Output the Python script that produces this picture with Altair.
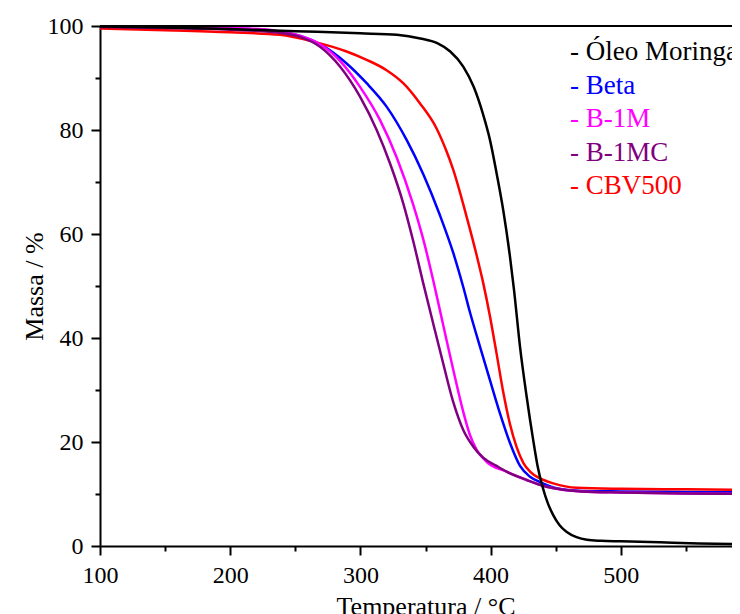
import altair as alt
import pandas as pd

# ---- data ----
series_names = ["Óleo Moringa", "Beta", "B-1M", "B-1MC", "CBV500"]
series_colors = ["#000000", "#0000ff", "#ff00ff", "#800080", "#ff0000"]
legend_labels = ["- Óleo Moringa", "- Beta", "- B-1M", "- B-1MC", "- CBV500"]

oleo_T = [100, 150, 200, 250, 300, 328, 346, 359, 369, 379, 387, 394, 399.5, 404.6,
          409.7, 414.9, 418, 422.6, 427.7, 432.7, 436, 440, 444, 448, 453, 458.5, 466,
          474, 485, 500, 530, 560, 600]
oleo_M = [99.9, 99.7, 99.4, 99.0, 98.6, 98.3, 97.6, 96.7, 95.1, 92.2, 88.3, 83.2, 78.1, 71.7,
          64.6, 55.6, 49.2, 38.3, 28.7, 20.4, 15.5, 11.3, 8.2, 6.0, 4.0, 2.7, 1.7,
          1.2, 1.0, 0.9, 0.7, 0.5, 0.35]

beta_T = [100, 150, 200, 230, 238, 254, 269, 289.4, 304.8, 320.1, 335.5, 348.3, 361.1,
          371.4, 379, 384.2, 391.9, 399.5, 407.2, 414.9, 422.6, 430.3, 438, 450.7, 470,
          500, 550, 600]
beta_M = [99.8, 99.7, 99.5, 99.2, 98.9, 98.1, 96.5, 92.8, 89.0, 84.5, 78.1, 71.5, 63.6,
          56.3, 49.8, 44.9, 38.3, 31.9, 25.5, 19.8, 15.4, 13.3, 12.3, 11.1, 10.6,
          10.5, 10.4, 10.3]

b1m_T = [100, 150, 200, 230, 238.2, 253.6, 269, 284.3, 299.7, 315.1, 327.9, 340.6, 349,
         356, 363.6, 371.4, 379, 384.2, 389.3, 396.9, 412.3, 427.7, 443, 453.3,
         470, 500, 550, 600]
b1m_M = [99.9, 99.8, 99.6, 99.3, 98.9, 98.1, 96.5, 93.3, 88.3, 81.9, 74.7, 65.6, 58.3,
         51.0, 42.5, 33.8, 25.8, 21.3, 18.5, 16.2, 14.3, 12.7, 11.4, 10.9,
         10.5, 10.3, 10.1, 10.0]

b1mc_T = [100, 150, 200, 230, 238.2, 253.6, 269, 284.3, 299.7, 312.5, 322.7, 332.9, 340.6,
          348.2, 355.9, 363.6, 371.4, 379, 386.7, 394.3, 404.6, 412.3, 427.7, 443, 453.3,
          470, 500, 550, 600]
b1mc_M = [99.8, 99.6, 99.3, 98.9, 98.7, 97.9, 96.0, 92.2, 86.4, 80.0, 73.6, 65.9, 58.6,
          50.6, 42.8, 35.1, 27.6, 22.3, 19.1, 17.0, 15.4, 14.3, 12.7, 11.4, 10.9,
          10.5, 10.3, 10.1, 10.0]

cbv_T = [100, 150, 200, 238.2, 263.8, 289.4, 304.8, 320.1, 332.9, 345.8, 358.5, 366,
         371.4, 381.6, 389.3, 394.3, 399.5, 404.6, 409.7, 414.9, 420, 425.1, 430.3, 438,
         448.1, 466, 500, 550, 600]
cbv_M = [99.5, 99.2, 98.8, 98.3, 97.0, 95.1, 93.5, 91.5, 89.0, 85.1, 80.3, 76.0,
         72.3, 63.3, 55.9, 50.6, 44.2, 37.0, 29.6, 23.4, 19.0, 16.0, 14.3, 13.0,
         12.05, 11.2, 11.0, 10.9, 10.8]

x_ticks = list(range(100, 601, 50))
y_ticks = list(range(0, 101, 10))

# draw order (last on top)
series_data = [
    ("Beta", beta_T, beta_M),
    ("CBV500", cbv_T, cbv_M),
    ("B-1M", b1m_T, b1m_M),
    ("B-1MC", b1mc_T, b1mc_M),
    ("Óleo Moringa", oleo_T, oleo_M),
]

rows = []
for k, (name, T, M) in enumerate(series_data):
    for i, (t, m) in enumerate(zip(T, M)):
        rows.append({"serie": name, "T": t, "M": m, "k": k, "i": i})
df = pd.DataFrame(rows)

FONT = "Liberation Serif"
PLOT_W = 632      # visible width of the plot area inside the page
RANGE_W = 651     # pixel extent of 100..600 (the frame continues past the picture)
PLOT_H = 520

x_axis = alt.Axis(
    values=x_ticks,
    title="Temperatura / °C",
    labelExpr="datum.value % 100 == 0 ? datum.label : ''",
    tickSize={"condition": {"test": "datum.value % 100 != 0", "value": 5}, "value": 9},
    labelFlush=False,
    labelOverlap=False,
    labelPadding=8,
    titlePadding=6,
)
y_axis = alt.Axis(
    values=y_ticks,
    title="Massa / %",
    labelExpr="datum.value % 20 == 0 ? datum.label : ''",
    tickSize={"condition": {"test": "datum.value % 20 != 0", "value": 5}, "value": 9},
    labelFlush=False,
    labelOverlap=False,
    labelPadding=8,
    titlePadding=0,
)

lines = alt.Chart(df).mark_line(strokeWidth=2.5, clip=True, interpolate="monotone").encode(
    x=alt.X("T:Q", scale=alt.Scale(domain=[100, 600], range=[0, RANGE_W], nice=False, zero=False), axis=x_axis),
    y=alt.Y("M:Q", scale=alt.Scale(domain=[0, 100], nice=False), axis=y_axis),
    color=alt.Color("serie:N", scale=alt.Scale(domain=series_names, range=series_colors), legend=None),
    detail="k:N",
    order="i:Q",
)

top_frame = alt.Chart(pd.DataFrame({"a": [0]})).mark_rule(color="black", strokeWidth=2).encode(
    x=alt.value(0), x2=alt.value(RANGE_W), y=alt.value(0)
)

legend_layers = []
for idx, (lab, col) in enumerate(zip(legend_labels, series_colors)):
    legend_layers.append(
        alt.Chart(pd.DataFrame({"t": [lab]})).mark_text(
            align="left", baseline="middle", font=FONT, fontSize=27, color=col
        ).encode(x=alt.value(470), y=alt.value(26 + idx * 33.6), text="t:N")
    )

chart = alt.layer(lines, top_frame, *legend_layers).properties(
    width=PLOT_W,
    height=PLOT_H,
    autosize=alt.AutoSizeParams(type="none"),
    padding={"left": 92, "top": 18, "right": 0, "bottom": 68},
    background="white",
).configure_view(strokeWidth=0).configure_axis(
    labelFont=FONT,
    titleFont=FONT,
    labelFontSize=24,
    titleFontSize=26,
    titleFontWeight="normal",
    labelColor="black",
    titleColor="black",
    domainColor="black",
    tickColor="black",
    domainWidth=2,
    tickWidth=2,
    grid=False,
)

chart.save("out.html", embed_options={"renderer": "svg", "actions": False})
